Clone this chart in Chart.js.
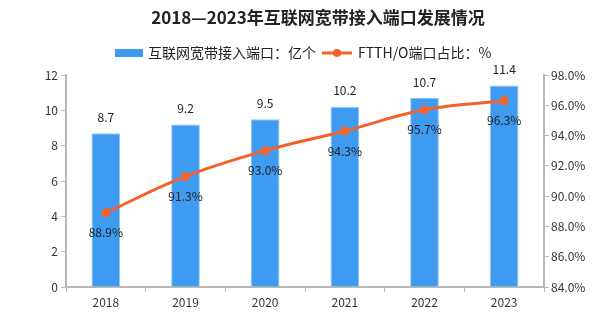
<!DOCTYPE html>
<html>
<head>
<meta charset="utf-8">
<script src="https://cdn.jsdelivr.net/npm/chart.js@4/dist/chart.umd.min.js"></script>
<style>
  html, body { margin: 0; padding: 0; background: #fff; }
  #wrap { width: 604px; height: 322px; }
</style>
</head>
<body>
<div id="wrap"><canvas id="c"></canvas></div>
<script>
// 数据
var years = ['2018', '2019', '2020', '2021', '2022', '2023'];
var ports = [8.7, 9.2, 9.5, 10.2, 10.7, 11.4];        // 亿个
var ftthShare = [88.9, 91.3, 93.0, 94.3, 95.7, 96.3];  // %
var leftTicks = [0, 2, 4, 6, 8, 10, 12];
var rightTicks = [84, 86, 88, 90, 92, 94, 96, 98];

var FONT = '"Noto Sans CJK SC", "DejaVu Sans", sans-serif';
var BAR_COLOR = '#3e9bf0';
var LINE_COLOR = '#f3622b';
var AXIS_COLOR = '#b8b8b8';

// 标题、图例、数值标签都自己画
var labelPlugin = {
    id: 'valueLabels',
    afterDatasetsDraw: function (chart) {
        var ctx = chart.ctx;
        ctx.save();
        ctx.font = '12px ' + FONT;
        ctx.fillStyle = '#222';
        ctx.textAlign = 'center';
        ctx.textBaseline = 'middle';

        chart.getDatasetMeta(1).data.forEach(function (bar, i) {
            ctx.fillText(ports[i].toFixed(1), bar.x, bar.y - 16);
        });
        chart.getDatasetMeta(0).data.forEach(function (pt, i) {
            ctx.fillText(ftthShare[i].toFixed(1) + '%', pt.x, pt.y + 20);
        });
        ctx.restore();
    },
    afterDraw: function (chart) {
        var ctx = chart.ctx;
        ctx.save();
        ctx.textBaseline = 'middle';

        ctx.fillStyle = '#222';
        ctx.textAlign = 'center';
        ctx.font = 'bold 17px ' + FONT;
        ctx.fillText('2018—2023年互联网宽带接入端口发展情况', 318, 18);

        var y = 53;
        ctx.textAlign = 'left';
        ctx.font = '14px ' + FONT;
        ctx.fillStyle = BAR_COLOR;
        ctx.fillRect(115, y - 4, 28, 8);
        ctx.fillStyle = '#222';
        ctx.fillText('互联网宽带接入端口：亿个', 148, y);

        ctx.strokeStyle = LINE_COLOR;
        ctx.lineWidth = 3;
        ctx.beginPath();
        ctx.moveTo(322, y);
        ctx.lineTo(352, y);
        ctx.stroke();
        ctx.fillStyle = LINE_COLOR;
        ctx.beginPath();
        ctx.arc(337, y, 4, 0, Math.PI * 2);
        ctx.fill();
        ctx.fillStyle = '#222';
        ctx.fillText('FTTH/O端口占比：%', 358, y);
        ctx.restore();
    }
};

var ctx = document.getElementById('c');

new Chart(ctx, {
    data: {
        labels: years,
        datasets: [
            {
                type: 'line',
                label: 'FTTH/O端口占比：%',
                data: ftthShare,
                yAxisID: 'y1',
                borderColor: LINE_COLOR,
                backgroundColor: LINE_COLOR,
                borderWidth: 3,
                pointRadius: 4.5,
                pointBackgroundColor: LINE_COLOR,
                pointBorderWidth: 0,
                tension: 0.4,
                order: 0
            },
            {
                type: 'bar',
                label: '互联网宽带接入端口：亿个',
                data: ports,
                yAxisID: 'y',
                backgroundColor: BAR_COLOR,
                borderColor: '#8cc4f7',
                borderWidth: 1,
                categoryPercentage: 1,
                barPercentage: 0.36,
                order: 1
            }
        ]
    },
    plugins: [labelPlugin],
    options: {
        responsive: true,
        maintainAspectRatio: false,
        animation: false,
        layout: { padding: { left: 0, right: 0, top: 75, bottom: 0 } },
        plugins: {
            legend: { display: false },
            tooltip: { enabled: false },
            title: { display: false }
        },
        scales: {
            x: {
                offset: true,
                grid: { display: true, drawOnChartArea: false, offset: true, color: AXIS_COLOR, tickLength: 5 },
                border: { color: AXIS_COLOR, width: 2 },
                ticks: { color: '#333', font: { family: FONT, size: 12 }, padding: 3 },
                afterFit: function (scale) { scale.height = 35; }
            },
            y: {
                position: 'left',
                min: 0,
                max: 12,
                afterBuildTicks: function (scale) {
                    scale.ticks = leftTicks.map(function (v) { return { value: v }; });
                },
                grid: { drawOnChartArea: false, color: AXIS_COLOR, tickLength: 5 },
                border: { color: AXIS_COLOR, width: 2 },
                ticks: { color: '#333', font: { family: FONT, size: 12 }, padding: 3 },
                afterFit: function (scale) { scale.width = 66; }
            },
            y1: {
                position: 'right',
                min: 84,
                max: 98,
                afterBuildTicks: function (scale) {
                    scale.ticks = rightTicks.map(function (v) { return { value: v }; });
                },
                grid: { drawOnChartArea: false, color: AXIS_COLOR, tickLength: 5 },
                border: { color: AXIS_COLOR, width: 2 },
                ticks: {
                    color: '#333',
                    font: { family: FONT, size: 12 },
                    padding: 2,
                    callback: function (v) { return v.toFixed(1) + '%'; }
                },
                afterFit: function (scale) { scale.width = 60; }
            }
        }
    }
});
</script>
</body>
</html>
